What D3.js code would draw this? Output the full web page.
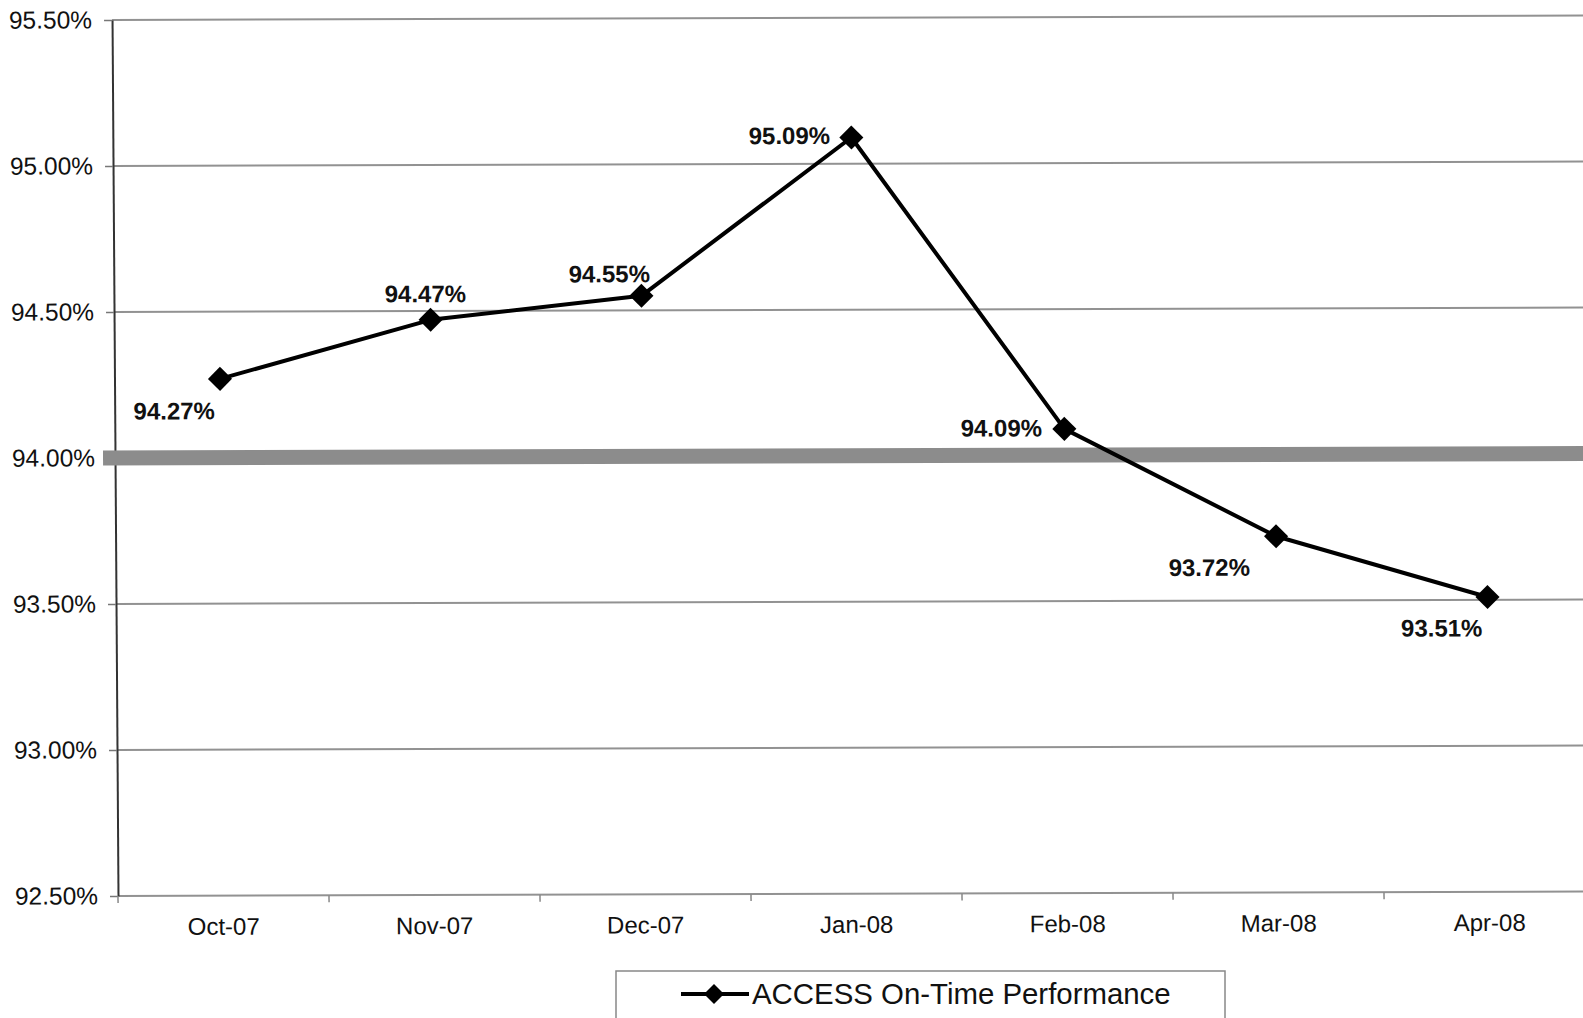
<!DOCTYPE html>
<html>
<head>
<meta charset="utf-8">
<script src="https://cdn.jsdelivr.net/npm/d3@7"></script>
<style>
  html, body { margin: 0; padding: 0; background: #fff; overflow: hidden; }
  text { font-family: "Liberation Sans", Arial, Helvetica, sans-serif; fill: #111; }
</style>
</head>
<body>
<svg id="chart" width="1583" height="1018"></svg>
<script>
// Monthly on-time performance
const months = ["Oct-07", "Nov-07", "Dec-07", "Jan-08", "Feb-08", "Mar-08", "Apr-08"];
const onTime = [94.27, 94.47, 94.55, 95.09, 94.09, 93.72, 93.51];
const yTicks = [92.5, 93.0, 93.5, 94.0, 94.5, 95.0, 95.5];
const target = 94.0;
const seriesName = "ACCESS On-Time Performance";

// where each value label sits relative to its marker (px)
const labelOffsets = [[-46, 32], [-5, -26], [-32, -22], [-62, -2], [-63, -1], [-67, 31], [-46, 31]];

const W = 1583, H = 1018;
const plotLeft = 118, band = 211, plotTop = 20, plotBottom = 896;

const data = months.map((m, i) => ({ m, v: onTime[i], off: labelOffsets[i] }));

const x = d3.scaleBand().domain(months).range([plotLeft, plotLeft + band * months.length]);
const y = d3.scaleLinear().domain([92.5, 95.5]).range([plotBottom, plotTop]);
const cx = m => x(m) + x.bandwidth() / 2;

const svg = d3.select("#chart");
svg.append("rect").attr("width", W).attr("height", H).attr("fill", "#fff");

// the printed page sits slightly askew
const g = svg.append("g")
  .attr("transform", `translate(${plotLeft},${plotBottom}) matrix(1,-0.003,0.0068,1,0,0) translate(${-plotLeft},${-plotBottom})`);

// horizontal gridlines
g.append("g").selectAll("line").data(yTicks).join("line")
  .attr("x1", plotLeft).attr("x2", W + 40)
  .attr("y1", d => y(d)).attr("y2", d => y(d))
  .attr("stroke", "#929292").attr("stroke-width", 2);

// y axis
const yAxis = g.append("g").attr("transform", `translate(${plotLeft},0)`)
  .call(d3.axisLeft(y).tickValues(yTicks).tickFormat(d => d3.format(".2f")(d) + "%")
    .tickSize(8).tickSizeOuter(0).tickPadding(12));
yAxis.select(".domain").attr("stroke", "#333").attr("stroke-width", 2);
yAxis.selectAll(".tick line").attr("stroke", "#777").attr("stroke-width", 1.5);
yAxis.selectAll("text").style("font-size", "24.5px").attr("fill", "#111");

// x axis labels
const xAxis = g.append("g").attr("transform", `translate(0,${plotBottom})`)
  .call(d3.axisBottom(x).tickSize(0).tickPadding(22));
xAxis.select(".domain").remove();
xAxis.selectAll("text").style("font-size", "24px").attr("fill", "#111");

// x tick marks at category boundaries
g.append("g").selectAll("line").data(d3.range(months.length + 1)).join("line")
  .attr("x1", i => plotLeft + i * band).attr("x2", i => plotLeft + i * band)
  .attr("y1", plotBottom).attr("y2", plotBottom + 7)
  .attr("stroke", "#888").attr("stroke-width", 1.5);

// target band
g.append("line")
  .attr("x1", plotLeft - 12).attr("x2", W + 40)
  .attr("y1", y(target)).attr("y2", y(target))
  .attr("stroke", "#8c8c8c").attr("stroke-width", 15);

// performance line
g.append("path").datum(data)
  .attr("d", d3.line().x(d => cx(d.m)).y(d => y(d.v)))
  .attr("fill", "none").attr("stroke", "#000").attr("stroke-width", 4)
  .attr("stroke-linejoin", "round");

const diamond = d3.symbol().type(d3.symbolSquare).size(290);
g.append("g").selectAll("path").data(data).join("path")
  .attr("d", diamond)
  .attr("transform", d => `translate(${cx(d.m)},${y(d.v)}) rotate(45)`)
  .attr("fill", "#000");

// value labels
g.append("g").selectAll("text").data(data).join("text")
  .attr("x", d => cx(d.m) + d.off[0])
  .attr("y", d => y(d.v) + d.off[1])
  .attr("dy", "0.35em")
  .attr("text-anchor", "middle")
  .style("font-size", "24px").style("font-weight", "bold")
  .text(d => d3.format(".2f")(d.v) + "%");

// legend
const lg = svg.append("g");
lg.append("rect").attr("x", 616).attr("y", 971).attr("width", 609).attr("height", 70)
  .attr("fill", "#fff").attr("stroke", "#888").attr("stroke-width", 1.5);
lg.append("line").attr("x1", 681).attr("x2", 749).attr("y1", 994).attr("y2", 994)
  .attr("stroke", "#000").attr("stroke-width", 4);
lg.append("path").attr("d", d3.symbol().type(d3.symbolSquare).size(200))
  .attr("transform", "translate(714,994) rotate(45)").attr("fill", "#000");
lg.append("text").attr("x", 752).attr("y", 1004).style("font-size", "29.4px").text(seriesName);
</script>
</body>
</html>
